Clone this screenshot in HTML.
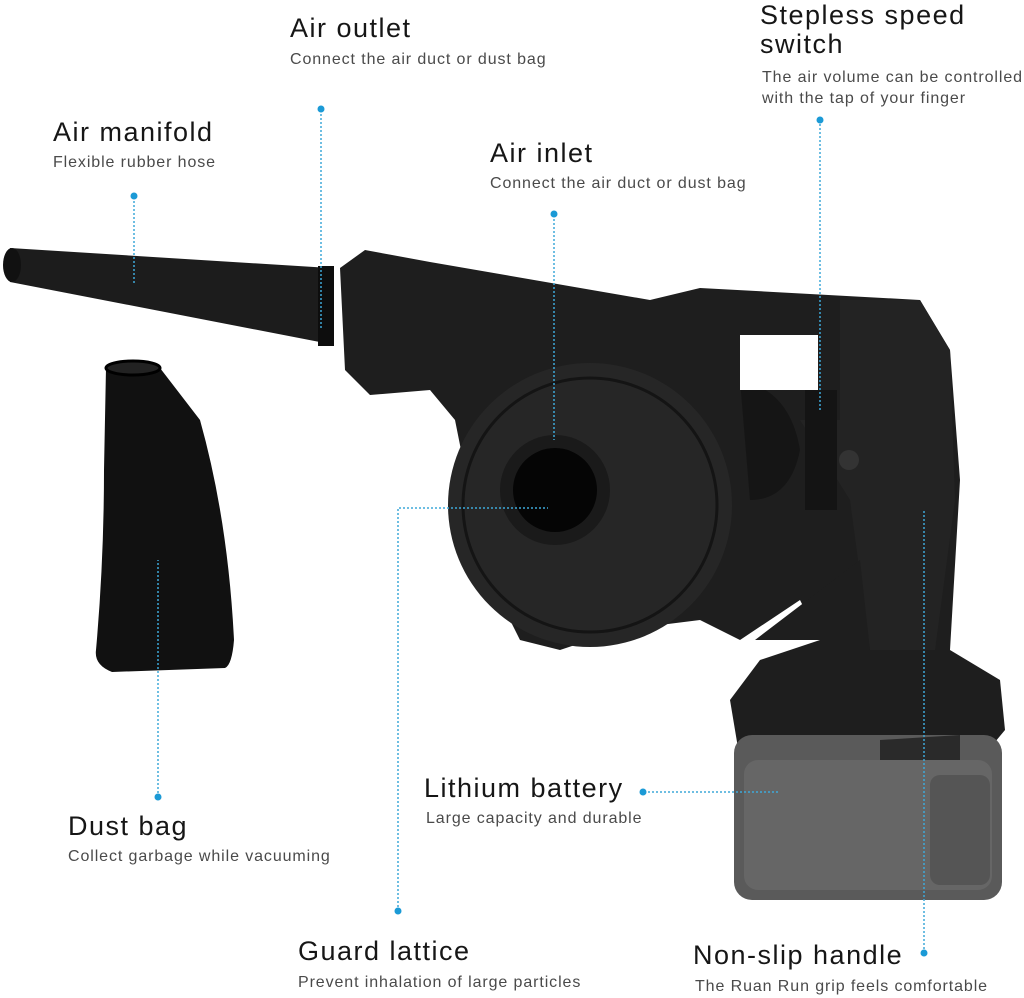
<!DOCTYPE html>
<html><head><meta charset="utf-8"><style>
body{margin:0;width:1024px;height:998px;background:#fff;overflow:hidden;position:relative;font-family:"Liberation Sans","DejaVu Sans",sans-serif}
.t{position:absolute;font-size:27px;color:#161616;white-space:nowrap;line-height:30px;letter-spacing:1.5px}
.s{position:absolute;font-size:16px;color:#4a4a4a;white-space:nowrap;line-height:21px;letter-spacing:0.9px}
svg{position:absolute;left:0;top:0}
</style></head><body>
<svg width="1024" height="998" viewBox="0 0 1024 998">
<!-- dust bag -->
<path d="M106,368 Q132,360 160,368 L200,420 Q228,520 234,640 Q232,665 225,668 L112,672 Q94,665 96,650 Q104,560 104,470 Z" fill="#111"/>
<ellipse cx="133" cy="368" rx="27" ry="7" fill="#222" stroke="#000" stroke-width="3"/>
<!-- nozzle -->
<path d="M10,248 L330,268 L330,344 L10,282 Q2,265 10,248 Z" fill="#1c1c1c"/>
<ellipse cx="12" cy="265" rx="9" ry="17" fill="#111"/>
<rect x="318" y="266" width="16" height="80" fill="#0d0d0d"/>
<!-- body -->
<path d="M340,268 L365,250 L430,262 L650,300 L700,288 L920,300 L950,350 L960,480 L950,650 L1000,680 L1005,730 L980,760 L740,760 L730,700 L760,660 L820,640 L800,600 L740,640 L700,620 L620,630 L560,650 L520,640 L480,560 L465,470 L455,420 L430,390 L370,395 L345,370 Z" fill="#1e1e1e"/>
<circle cx="590" cy="505" r="142" fill="#262626"/>
<circle cx="590" cy="505" r="127" fill="none" stroke="#141414" stroke-width="3"/>
<circle cx="555" cy="490" r="55" fill="#1a1a1a"/>
<circle cx="555" cy="490" r="42" fill="#050505"/>
<path d="M740,380 Q790,390 800,450 Q790,500 750,500 Z" fill="#151515"/>
<path d="M840,300 L920,300 L950,350 L955,500 L935,650 L870,650 L850,500 L800,420 L840,420 Z" fill="#232323"/>
<rect x="740" y="335" width="78" height="55" fill="#fff"/>
<rect x="805" y="390" width="32" height="120" fill="#141414"/>
<circle cx="849" cy="460" r="10" fill="#333"/>
<path d="M755,640 L860,560 L870,650 L820,640 Z" fill="#1e1e1e"/>
<!-- battery -->
<rect x="734" y="735" width="268" height="165" rx="18" fill="#5a5a5a"/>
<rect x="744" y="760" width="248" height="130" rx="14" fill="#666"/>
<rect x="930" y="775" width="60" height="110" rx="10" fill="#555"/>
<path d="M880,740 L960,735 L960,760 L880,760 Z" fill="#2a2a2a"/>
<!-- leader lines -->
<g stroke="#3ea8d8" stroke-width="1.5" stroke-dasharray="2,2" fill="none">
<path d="M321,110 V330"/>
<path d="M134,197 V285"/>
<path d="M554,215 V440"/>
<path d="M820,120 V412"/>
<path d="M158,797 V560"/>
<path d="M644,792 H780"/>
<path d="M398,911 V508 H548"/>
<path d="M924,953 V510"/>
</g>
<g fill="#1b9ad6">
<circle cx="321" cy="109" r="3.5"/><circle cx="134" cy="196" r="3.5"/><circle cx="554" cy="214" r="3.5"/><circle cx="820" cy="120" r="3.5"/><circle cx="158" cy="797" r="3.5"/><circle cx="643" cy="792" r="3.5"/><circle cx="398" cy="911" r="3.5"/><circle cx="924" cy="953" r="3.5"/>
</g>
</svg>
<div class="t" style="left:290px;top:13px">Air outlet</div>
<div class="s" style="left:290px;top:49px">Connect the air duct or dust bag</div>
<div class="t" style="left:760px;top:0px">Stepless speed</div>
<div class="t" style="left:760px;top:29px">switch</div>
<div class="s" style="left:762px;top:67px">The air volume can be controlled</div>
<div class="s" style="left:762px;top:88px">with the tap of your finger</div>
<div class="t" style="left:53px;top:117px">Air manifold</div>
<div class="s" style="left:53px;top:152px">Flexible rubber hose</div>
<div class="t" style="left:490px;top:138px">Air inlet</div>
<div class="s" style="left:490px;top:173px">Connect the air duct or dust bag</div>
<div class="t" style="left:68px;top:811px">Dust bag</div>
<div class="s" style="left:68px;top:846px">Collect garbage while vacuuming</div>
<div class="t" style="left:424px;top:773px">Lithium battery</div>
<div class="s" style="left:426px;top:808px">Large capacity and durable</div>
<div class="t" style="left:298px;top:936px">Guard lattice</div>
<div class="s" style="left:298px;top:972px">Prevent inhalation of large particles</div>
<div class="t" style="left:693px;top:940px">Non-slip handle</div>
<div class="s" style="left:695px;top:976px">The Ruan Run grip feels comfortable</div>
</body></html>
